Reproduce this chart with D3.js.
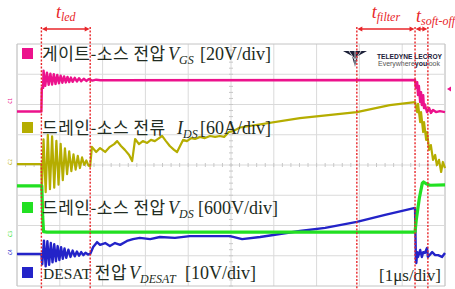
<!DOCTYPE html>
<html>
<head>
<meta charset="utf-8">
<script src="https://cdn.jsdelivr.net/npm/d3@7"></script>
<style>
  body { margin: 0; background: #fff; }
  svg { display: block; }
</style>
</head>
<body>
<div id="chart"></div>
<script>
/*
 * data: time in us (1 us/div), values in screen divisions (0 = bottom, 8 = top)
 */
const vgs = [[0,5.77],[0.57,5.77],[0.58,6.55],[0.61,6.55],[0.62,7.12],[0.66,6.62],[0.70,7.05],[0.74,6.65],
  [0.78,7.02],[0.82,6.66],[0.86,7.0],[0.90,6.68],[0.94,6.98],[0.98,6.70],[1.02,6.95],[1.06,6.72],[1.10,6.93],
  [1.14,6.73],[1.18,6.91],[1.22,6.74],[1.26,6.89],[1.30,6.75],[1.35,6.88],[1.40,6.76],[1.45,6.87],[1.50,6.77],
  [1.56,6.85],[1.62,6.78],[1.68,6.84],[1.76,6.79],[1.85,6.82],[1.95,6.80],[9.30,6.81],[9.32,6.55],[9.35,6.74],
  [9.37,6.31],[9.39,6.61],[9.42,6.08],[9.44,6.41],[9.46,5.98],[9.49,6.31],[9.51,5.88],[9.53,6.0],[9.58,5.75],
  [9.63,5.88],[9.67,5.72],[9.72,5.82],[9.79,5.75],[9.88,5.78],[10,5.75]]

const ids = [[0,4.03],[0.57,4.03],[0.58,3.2],[0.62,4.85],[0.67,3.1],[0.72,5.0],[0.77,3.2],[0.82,4.95],[0.87,3.25],
  [0.92,4.8],[0.97,3.35],[1.02,4.7],[1.07,3.5],[1.12,4.55],[1.17,3.7],[1.22,4.45],[1.27,3.8],[1.32,4.35],[1.37,3.85],
  [1.42,4.3],[1.47,3.9],[1.52,4.25],[1.57,4.0],[1.62,4.15],[1.67,3.98],[1.71,3.95],[1.75,4.6],[1.85,4.43],[1.94,4.56],
  [2.06,4.43],[2.17,4.6],[2.27,4.69],[2.34,4.79],[2.43,4.63],[2.52,4.5],[2.62,4.33],[2.69,4.13],[2.76,4.86],[2.85,4.69],
  [2.94,4.79],[3.04,4.73],[3.13,4.83],[3.22,4.79],[3.32,4.89],[3.39,4.96],[3.48,4.79],[3.57,4.63],[3.67,4.5],[3.74,4.43],
  [3.81,4.63],[3.88,4.83],[3.97,4.79],[4.07,4.89],[4.16,4.86],[4.28,4.93],[4.39,4.89],[4.51,4.96],[4.63,4.93],[4.74,4.96],
  [4.84,4.93],[4.95,5.09],[5.05,5.12],[5.21,5.24],[6.61,5.55],[7.94,5.75],[8.71,5.98],[9.30,6.08],[9.35,5.75],[9.37,6.02],
  [9.42,5.42],[9.44,5.75],[9.49,5.09],[9.51,5.42],[9.56,4.83],[9.58,5.09],[9.63,4.5],[9.67,4.66],[9.72,4.17],[9.77,4.33],
  [9.81,4.0],[9.86,4.17],[9.91,3.77],[9.95,4.1],[10,3.9]]

const vds = [[0,3.31],[0.58,3.31],[0.60,2.3],[0.62,1.80],[0.70,1.78],[9.30,1.78],[9.33,2.2],[9.40,2.9],[9.47,3.4],
  [9.50,3.44],[9.56,3.38],[9.65,3.33],[10,3.34]]

const vdesat = [[0,1.06],[0.57,1.06],[0.59,0.72],[0.63,1.5],[0.67,0.65],[0.71,1.48],[0.75,0.7],[0.79,1.42],[0.83,0.78],
  [0.87,1.38],[0.91,0.82],[0.95,1.32],[0.99,0.86],[1.03,1.28],[1.07,0.9],[1.11,1.24],[1.15,0.93],[1.20,1.2],[1.25,0.96],
  [1.30,1.17],[1.35,0.98],[1.40,1.14],[1.45,1.0],[1.50,1.12],[1.55,1.02],[1.60,1.1],[1.66,1.04],[1.71,1.06],[1.78,1.29],
  [1.87,1.45],[1.94,1.36],[2.06,1.42],[2.17,1.32],[2.29,1.42],[2.41,1.36],[2.57,1.49],[2.71,1.55],[2.87,1.59],[3.11,1.55],
  [3.34,1.62],[3.69,1.59],[4.04,1.65],[4.51,1.65],[4.98,1.65],[5.26,1.55],[5.68,1.62],[6.14,1.72],[6.61,1.82],[7.20,1.92],
  [7.94,2.12],[8.60,2.35],[9.30,2.58],[9.32,0.86],[9.33,0.76],[9.35,1.12],[9.37,0.96],[9.42,1.19],[9.46,0.96],[9.49,1.12],
  [9.53,1.09],[9.58,1.26],[9.60,0.96],[9.70,1.12],[9.77,1.02],[9.84,1.02],[9.93,0.96],[10,1.09]]

const channelNames = ['게이트-소스 전압', '드레인-소스 전류', '드레인-소스 전압', 'DESAT 전압']
const channelSymbols = ['V', 'I', 'V', 'V']
const channelSubs = ['GS', 'DS', 'DS', 'DESAT']
const channelScales = ['[20V/div]', '[60A/div]', '[600V/div]', '[10V/div]']
const channelMarks = [6.12, 4.10, 1.72, 1.12]
const triggerLevel = 6.51
const markerTimes = [0.57, 1.71, 7.94, 9.30, 9.60]
const intervals = [[0.57, 1.71], [7.94, 9.30], [9.30, 9.60]]
const intervalLabels = ['led', 'filter', 'soft-off']
const timebase = '[1μs/div]'

/*
 * layout
 */
const w = 455
const h = 289
const colors = ['#ec128c', '#b5ad00', '#22e022', '#2323c8']
const red = '#e8262a'
const textColor = '#222c22'
const ko = "'Noto Sans CJK KR', sans-serif"
const serif = "'Liberation Serif', 'Times New Roman', serif"

const legendY = [60, 134, 214, 279]
const symbolX = [168, 177, 168, 129]
const scaleX = [200, 200, 198, 185]

const svg = d3.select('#chart')
  .append('svg')
  .attr('width', w)
  .attr('height', h)

const x = d3.scaleLinear().domain([0, 10]).range([17, 445])
const y = d3.scaleLinear().domain([0, 8]).range([286, 44])

/*
 * grid
 */
const grid = svg.append('g')
grid.selectAll('.vg')
  .data(x.ticks(10))
  .enter()
  .append('line')
  .attr('x1', d => x(d)).attr('x2', d => x(d))
  .attr('y1', y(0)).attr('y2', y(8))
  .style('stroke', d => (d === 0 || d === 10) ? '#b4b4b4' : '#dadada')
  .style('stroke-width', 1)

grid.selectAll('.hg')
  .data(y.ticks(8))
  .enter()
  .append('line')
  .attr('x1', x(0)).attr('x2', x(10))
  .attr('y1', d => y(d)).attr('y2', d => y(d))
  .style('stroke', d => (d === 0 || d === 8) ? '#c4c4c4' : '#dadada')
  .style('stroke-width', 1)

// minor ticks on the centre cross
grid.selectAll('.tx')
  .data(d3.range(0, 50).map(i => i / 5))
  .enter()
  .append('line')
  .attr('x1', d => x(d)).attr('x2', d => x(d))
  .attr('y1', y(4) - 2).attr('y2', y(4) + 2)
  .style('stroke', '#c8c8c8')
grid.selectAll('.ty')
  .data(d3.range(0, 40).map(i => i / 5))
  .enter()
  .append('line')
  .attr('y1', d => y(d)).attr('y2', d => y(d))
  .attr('x1', x(5) - 2).attr('x2', x(5) + 2)
  .style('stroke', '#c8c8c8')

/*
 * traces
 */
const line = d3.line()
  .x(d => x(d[0]))
  .y(d => y(d[1]))

const traces = [
  { data: vgs, color: colors[0], width: 2.4 },
  { data: ids, color: colors[1], width: 2.2 },
  { data: vdesat, color: colors[3], width: 2.4 },
  { data: vds, color: colors[2], width: 3.2 }
]

svg.append('g')
  .selectAll('path')
  .data(traces)
  .enter()
  .append('path')
  .attr('d', d => line(d.data))
  .style('fill', 'none')
  .style('stroke', d => d.color)
  .style('stroke-width', d => d.width)
  .style('stroke-linejoin', 'round')

// channel markers on the left edge
const marks = svg.append('g')
channelMarks.forEach((m, i) => {
  marks.append('text')
    .attr('transform', `translate(12,${y(m)}) rotate(-90)`)
    .attr('text-anchor', 'middle')
    .style('font', `5px ${ko}`)
    .style('fill', colors[i])
    .text('C' + (i + 1))
})

// trigger level marker
svg.append('path')
  .attr('d', `M${x(10) + 2},${y(triggerLevel)} l4,-2.5 l0,5 Z`)
  .style('fill', colors[0])

/*
 * legend
 */
const legend = svg.append('g')
channelNames.forEach((name, i) => {
  const yy = legendY[i]
  legend.append('rect')
    .attr('x', 22).attr('y', yy - 12)
    .attr('width', 11).attr('height', 11)
    .style('fill', colors[i])

  const t = legend.append('text')
    .attr('y', yy)
    .style('fill', textColor)

  const latin = name.match(/^([A-Za-z]+)\s(.*)$/)
  if (latin) {
    t.append('tspan').attr('x', 43)
      .style('font', `15.5px ${serif}`).text(latin[1] + ' ')
    t.append('tspan')
      .style('font', `17px ${ko}`).style('letter-spacing', '0.5px').text(latin[2])
  } else {
    t.append('tspan').attr('x', 42)
      .style('font', `17px ${ko}`).style('letter-spacing', '0.5px').text(name)
  }
  t.append('tspan').attr('x', symbolX[i])
    .style('font', `italic 18px ${serif}`).text(channelSymbols[i])
  t.append('tspan').attr('dy', 4)
    .style('font', `italic 12px ${serif}`).text(channelSubs[i])
  t.append('tspan').attr('x', scaleX[i]).attr('dy', -4)
    .style('font', `18px ${serif}`).text(channelScales[i])
})

svg.append('text')
  .attr('x', 441).attr('y', 281)
  .attr('text-anchor', 'end')
  .style('font', `17px ${serif}`)
  .style('fill', textColor)
  .text(timebase)

/*
 * LeCroy logo
 */
const logo = svg.append('g').style('fill', '#1b2038')
logo.append('path').attr('d', 'M343,51 L367,51 L358,56 L355,67 L352,56 Z')
logo.append('path').attr('d', 'M355,51 L355,67').style('stroke', '#fff').style('stroke-width', 0.8)
logo.append('path').attr('d', 'M349,51 L355,60 L361,51').style('stroke', '#fff').style('stroke-width', 0.8).style('fill', 'none')
logo.append('text')
  .attr('x', 377).attr('y', 58.5)
  .attr('textLength', 65)
  .attr('lengthAdjust', 'spacingAndGlyphs')
  .style('font', "bold 7px 'Liberation Sans', Arial, sans-serif")
  .text('TELEDYNE LECROY')
logo.append('text')
  .attr('x', 378).attr('y', 66)
  .attr('textLength', 62)
  .attr('lengthAdjust', 'spacingAndGlyphs')
  .style('font', "6.5px 'Liberation Sans', Arial, sans-serif")
  .style('fill', '#555')
  .html('Everywhere<tspan style="font-weight:bold;fill:#1b2038">you</tspan>look')

/*
 * timing markers
 */
const markers = svg.append('g')
markers.selectAll('line')
  .data(markerTimes)
  .enter()
  .append('line')
  .attr('x1', d => x(d)).attr('x2', d => x(d))
  .attr('y1', 27).attr('y2', h)
  .style('stroke', red)
  .style('stroke-width', 1.4)
  .style('stroke-dasharray', '2,1.6')

intervals.forEach((iv, i) => {
  const x0 = x(iv[0]) + 0.5
  const x1 = x(iv[1]) - 0.5
  const ay = 29
  markers.append('line')
    .attr('x1', x0 + 3).attr('x2', x1 - 3)
    .attr('y1', ay).attr('y2', ay)
    .style('stroke', red).style('stroke-width', 1.4)
  markers.append('path')
    .attr('d', `M${x0},${ay} l5,-2.6 l0,5.2 Z M${x1},${ay} l-5,-2.6 l0,5.2 Z`)
    .style('fill', red)

  const last = i === intervals.length - 1
  const lbl = markers.append('text')
    .attr('x', last ? x(iv[0]) + 1 : (x0 + x1) / 2)
    .attr('y', last ? 22 : 18)
    .attr('text-anchor', last ? 'start' : 'middle')
    .style('fill', red)
  lbl.append('tspan').style('font', `italic 18px ${serif}`).text('t')
  lbl.append('tspan').attr('dy', 3).style('font', `italic 12px ${serif}`).text(intervalLabels[i])
})
</script>
</body>
</html>
